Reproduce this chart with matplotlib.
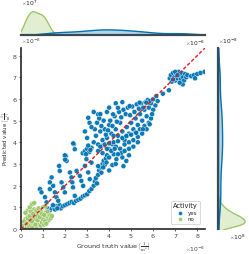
import numpy as np
import pandas as pd
import matplotlib
matplotlib.use("Agg")
import matplotlib.pyplot as plt
import seaborn as sns

sns.set_theme(style="ticks")
plt.rcParams['font.family'] = ['DejaVu Sans']
plt.rcParams['mathtext.fontset'] = 'cm'
plt.rcParams['axes.formatter.use_mathtext'] = True

SCALE = 1e-8

# Ground truth / predicted values (in units of 1e-8)
yes_x = [1.1,1.2,1.3,1.4,1.5,1.55,1.6,1.7,1.75,1.8,1.9,2.0,2.1,2.2,2.3,2.4,2.5,2.6,2.7,2.8,2.9,3.0,3.1,3.2,3.3,3.35,3.4,3.5,3.55,3.6,3.7,3.75,3.85,3.9,3.5,3.65,3.45,3.8,1.45,1.65,
         0.86,0.93,1.09,1.16,1.31,1.31,1.39,1.46,1.54,1.61,1.69,1.73,1.76,1.84,1.92,1.99,2.04,2.07,2.22,2.29,2.33,2.36,2.44,2.40,2.52,2.67,2.74,2.82,2.90,2.97,3.05,3.12,3.20,
         2.8,2.9,3.0,3.1,3.2,2.95,3.05,3.15,3.65,4.0,4.21,4.14,
         3.3,3.4,3.5,3.6,3.7,3.8,3.9,4.0,4.1,4.2,4.3,4.4,4.5,4.6,4.7,4.8,4.9,5.0,5.1,5.2,5.3,5.4,5.5,5.6,5.7,5.8,5.9,
         3.35,3.45,3.55,3.65,3.75,3.85,3.95,4.05,4.15,4.25,4.35,4.45,4.55,4.65,4.75,4.85,4.95,5.05,5.15,5.25,5.35,5.45,5.55,5.65,5.75,
         3.5,3.6,3.7,3.8,3.9,4.0,4.1,4.2,4.3,4.4,4.5,4.6,4.7,4.8,4.9,5.0,5.1,5.2,5.3,5.4,5.5,5.6,5.7,5.8,5.9,
         4.25,4.55,4.33,3.88,3.73,4.0,4.4,4.7,4.15,4.0,4.3,4.6,4.9,5.1,5.3,4.78,5.23,5.53,5.84,4.78,4.65,4.9,
         3.05,3.11,3.5,4.18,4.4,4.93,5.38,5.84,2.37,2.44,1.99,2.0,3.2,3.3,3.6,3.9,4.0,4.3,4.6,2.9,3.0,
         5.69,5.99,6.14,6.44,6.71,6.0,6.1,5.95,6.2,
         6.75,6.8,6.85,6.9,6.95,7.0,7.05,7.1,7.15,7.2,7.25,7.3,7.35,7.4,7.45,7.5,7.55,7.34,7.2,7.0,6.9,7.1,
         7.72,7.85,8.0,8.15,8.33,7.9]
yes_y = [0.75,0.95,0.85,0.95,1.0,0.9,1.05,1.0,1.1,0.95,1.05,1.1,1.15,1.2,1.25,1.2,1.3,1.35,1.4,1.5,1.55,1.6,1.75,1.85,2.0,2.2,2.35,2.5,2.7,2.85,3.0,3.15,3.25,3.4,2.9,2.6,2.1,2.95,1.1,0.95,
         1.84,1.69,1.47,1.23,2.15,1.84,2.38,1.99,1.69,1.46,1.30,2.91,2.68,2.15,1.92,1.69,3.37,3.14,2.61,2.38,2.15,1.92,1.53,3.91,2.68,2.45,2.22,1.99,2.91,3.22,2.61,2.30,3.06,
         3.5,3.6,3.7,3.55,3.75,3.45,3.85,3.65,3.83,3.68,3.45,3.91,
         4.0,4.3,3.9,4.5,4.1,4.6,4.2,4.8,4.4,4.0,4.6,4.3,4.9,4.5,4.1,4.7,4.4,4.9,4.6,5.1,4.8,5.3,5.0,5.5,5.2,5.6,5.8,
         4.6,4.9,5.1,4.75,5.0,4.35,4.55,5.0,4.75,5.2,4.95,5.4,5.15,5.5,5.3,5.6,5.25,5.65,5.4,5.75,5.55,5.8,5.6,5.85,5.95,
         3.6,3.8,3.5,3.9,3.7,3.95,3.6,4.3,3.8,4.05,3.7,4.2,3.9,4.3,4.0,4.35,4.1,4.45,4.25,4.6,4.4,4.75,4.6,4.9,5.1,
         3.7,3.5,3.22,3.07,2.84,3.3,3.45,3.6,2.95,2.7,3.0,3.3,3.7,3.8,4.0,4.29,4.44,4.6,4.83,3.14,2.9,3.4,
         5.13,4.9,5.29,5.29,5.59,5.67,5.83,5.9,3.95,3.68,3.40,3.2,4.7,5.4,5.3,5.4,5.6,5.8,5.85,4.5,4.2,
         5.83,5.98,6.13,6.24,6.40,5.5,5.7,5.3,5.9,
         6.95,7.1,6.8,7.2,7.0,6.85,7.15,6.95,7.25,7.05,6.9,7.2,7.0,6.85,7.15,7.0,7.1,6.67,6.75,7.25,6.9,7.1,
         7.05,7.1,7.15,7.2,7.25,6.95]

no_x = [0.05,0.1,0.15,0.2,0.25,0.3,0.35,0.4,0.45,0.5,0.55,0.6,0.65,0.7,0.75,0.8,0.85,0.9,0.95,1.0,1.05,1.1,1.15,1.2,1.25,1.3,1.35,1.4,
        0.15,0.25,0.35,0.45,0.5,0.55,0.6,0.65,0.7,0.75,0.8,0.85,0.9,0.95,1.0,1.05,1.1,1.15,1.2,0.3,0.4,0.5,0.6,
        0.2,0.3,0.4,0.45,0.5,0.55,0.6,0.7,0.8,0.9,1.0,1.1,0.35,0.65,0.75,0.85,0.95,1.05,0.25,0.5]
no_y = [0.1,0.3,0.2,0.45,0.15,0.6,0.25,0.35,0.5,0.2,0.4,0.7,0.3,0.55,0.25,0.45,0.65,0.35,0.5,0.6,0.3,0.75,0.45,0.55,0.4,0.65,0.5,0.6,
        0.35,0.05,0.4,0.25,0.55,0.15,0.3,0.45,0.1,0.6,0.2,0.4,0.15,0.3,0.45,0.2,0.35,0.25,0.8,0.85,1.0,1.15,0.9,
        0.75,0.5,0.6,0.8,0.35,0.7,1.2,0.85,0.95,0.8,1.0,1.05,0.15,0.2,0.4,0.55,0.7,0.65,0.25,0.05]

activity_levels = ["yes", "no"]

df = pd.DataFrame({
    "gt": np.array(yes_x + no_x) * SCALE,
    "pred": np.array(yes_y + no_y) * SCALE,
    "Activity": ["yes"] * len(yes_x) + ["no"] * len(no_x),
})

palette = {"yes": "#0173b2", "no": "#9cc76a"}
fs = 4.6

W, H = 249, 254
fig = plt.figure(figsize=(W / 100, H / 100), dpi=100)

def rect(l, t, r, b):
    return [l / W, 1 - b / H, (r - l) / W, (b - t) / H]

ax = fig.add_axes(rect(21, 48, 205, 229))
ax_top = fig.add_axes(rect(21, 10, 205, 35), sharex=ax)
ax_right = fig.add_axes(rect(218, 48, 246, 229), sharey=ax)

sns.scatterplot(data=df, x="gt", y="pred", hue="Activity", hue_order=activity_levels,
                palette=palette, s=13, linewidth=0.3, edgecolor="white", alpha=0.95, ax=ax)

lim = 8.35 * SCALE
ax.plot([0, lim], [0, lim], color="#e41a1c", linestyle=(0, (2.5, 1.5)), linewidth=1.0, zorder=5)
ax.set_xlim(0, lim)
ax.set_ylim(0, lim)
ax.set_xticks(np.arange(0, 9) * SCALE)
ax.set_yticks(np.arange(0, 9) * SCALE)
ax.tick_params(labelsize=fs, length=1.5, width=0.6, pad=1.0, colors="#444444")
ax.xaxis.get_offset_text().set_fontsize(fs - 0.3)
ax.yaxis.get_offset_text().set_fontsize(fs - 0.3)
ax.set_xlabel(r"Ground truth value $[\frac{1}{\mathrm{m}^2}]$", fontsize=fs, labelpad=0, color="#333333")
ax.set_ylabel(r"Predicted value $[\frac{1}{\mathrm{m}^2}]$", fontsize=fs - 0.6, color="#333333")
ax.yaxis.set_label_coords(-0.042, 0.5)
for s in ["top", "right"]:
    ax.spines[s].set_visible(False)
for s in ["left", "bottom"]:
    ax.spines[s].set_linewidth(1.2)
    ax.spines[s].set_color("#262626")

leg = ax.legend(title="Activity", loc="lower right", fontsize=fs - 0.6, title_fontsize=fs + 0.2,
                markerscale=0.8, frameon=True, borderpad=0.4, handletextpad=0.3, labelspacing=0.3,
                bbox_to_anchor=(0.99, 0.01))
leg.get_frame().set_linewidth(0.5)
leg.get_frame().set_edgecolor("#bbbbbb")

sns.kdeplot(data=df, x="gt", hue="Activity", hue_order=activity_levels, palette=palette,
            fill=True, alpha=0.3, linewidth=1.0, common_norm=False, ax=ax_top, legend=False)
sns.kdeplot(data=df, y="pred", hue="Activity", hue_order=activity_levels, palette=palette,
            fill=True, alpha=0.3, linewidth=1.0, common_norm=False, ax=ax_right, legend=False)

for a in (ax_top, ax_right):
    a.set_xlabel("")
    a.set_ylabel("")
    a.tick_params(labelsize=fs, length=0)

plt.setp(ax_top.get_xticklabels(), visible=False)
plt.setp(ax_top.get_yticklabels(), visible=False)
plt.setp(ax_right.get_xticklabels(), visible=False)
plt.setp(ax_right.get_yticklabels(), visible=False)
for t in (ax_top.xaxis, ax_top.yaxis, ax_right.xaxis, ax_right.yaxis):
    t.get_offset_text().set_fontsize(fs - 0.3)

for s in ["top", "right", "left"]:
    ax_top.spines[s].set_visible(False)
ax_top.spines["bottom"].set_linewidth(1.6)
ax_top.spines["bottom"].set_color("#3a4a55")
for s in ["top", "right", "bottom"]:
    ax_right.spines[s].set_visible(False)
ax_right.spines["left"].set_linewidth(1.6)
ax_right.spines["left"].set_color("#3a4a55")

fig.savefig("out.png", dpi=100)
